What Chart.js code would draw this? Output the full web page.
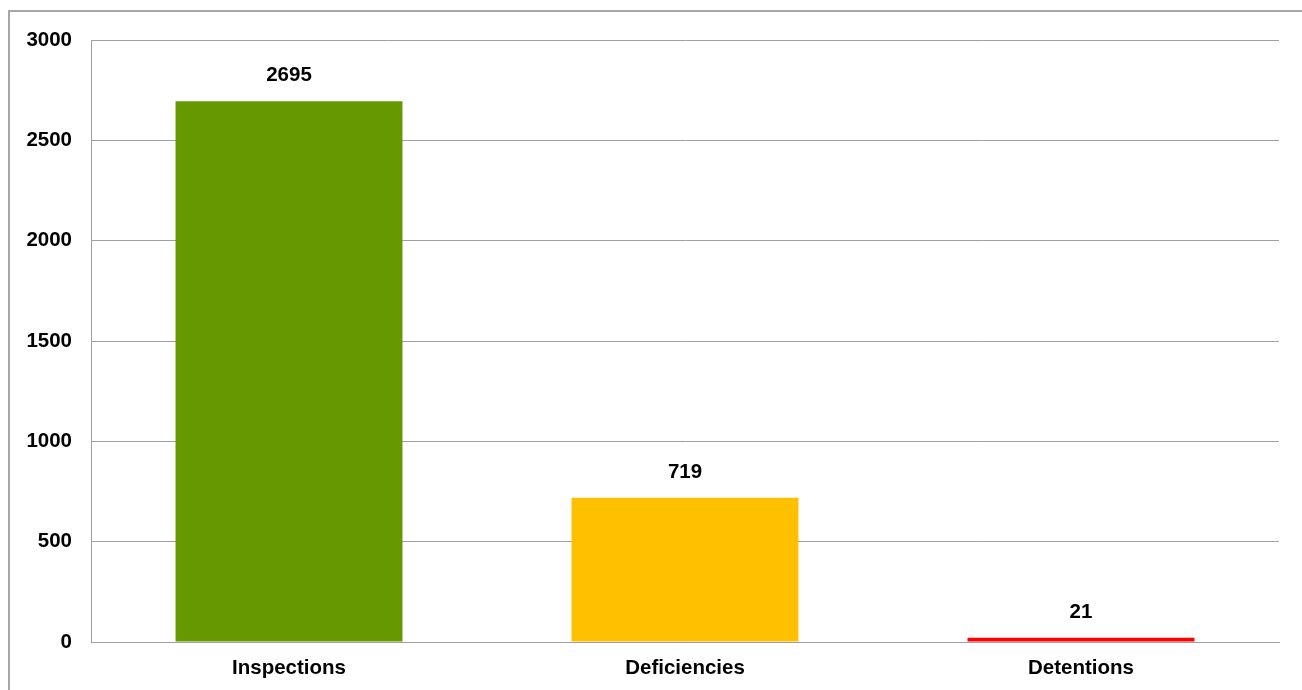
<!DOCTYPE html>
<html>
<head>
<meta charset="utf-8">
<script src="https://cdn.jsdelivr.net/npm/chart.js@4/dist/chart.umd.min.js"></script>
<style>
  html, body { margin: 0; padding: 0; background: #fff; overflow: hidden; }
  #wrap { position: relative; width: 1302px; height: 690px; }
</style>
</head>
<body>
<div id="wrap"><canvas id="grafico"></canvas></div>
<script>
// datos del grafico
const categorias = ['Inspections', 'Deficiencies', 'Detentions'];
const valores = [2695, 719, 21];
const colores = ['#669900', '#FFC000', '#FF0000'];
const ticksY = [0, 500, 1000, 1500, 2000, 2500, 3000];

const fuente = { family: '"Liberation Sans", Arial, sans-serif', size: 20.5, weight: 'bold' };
const gris = '#a0a0a0';

// marco exterior como en la imagen original
const marco = {
    id: 'marco',
    beforeDraw(chart) {
        const ctx = chart.ctx;
        ctx.save();
        ctx.strokeStyle = '#a6a6a6';
        ctx.lineWidth = 2;
        ctx.strokeRect(9, 11, 2000, 2000);
        ctx.restore();
    }
};

// etiquetas con el valor encima de cada barra
const etiquetas = {
    id: 'etiquetas',
    afterDatasetsDraw(chart) {
        const ctx = chart.ctx;
        const meta = chart.getDatasetMeta(0);
        ctx.save();
        ctx.font = 'bold 20.5px "Liberation Sans", Arial, sans-serif';
        ctx.fillStyle = '#000';
        ctx.textAlign = 'center';
        ctx.textBaseline = 'alphabetic';
        meta.data.forEach((bar, i) => {
            ctx.fillText(String(valores[i]), bar.x, bar.y - 20);
        });
        ctx.restore();
    }
};

new Chart(document.getElementById('grafico'), {
    type: 'bar',
    data: {
        labels: categorias,
        datasets: [{
            data: valores,
            backgroundColor: colores,
            borderWidth: 0,
            categoryPercentage: 1,
            barPercentage: 0.573
        }]
    },
    options: {
        responsive: true,
        maintainAspectRatio: false,
        animation: false,
        layout: { padding: { left: 0, top: 40, right: 23, bottom: 0 } },
        plugins: {
            legend: { display: false },
            tooltip: { enabled: false }
        },
        scales: {
            y: {
                min: 0, max: 3000,
                afterFit: (s) => { s.width = 91; },
                afterBuildTicks: (s) => { s.ticks = ticksY.map(v => ({ value: v })); },
                grid: { color: gris, lineWidth: 1, drawTicks: false },
                border: { display: true, color: gris, width: 1 },
                ticks: { color: '#000', font: fuente, padding: 19, callback: (v) => String(v) }
            },
            x: {
                afterFit: (s) => { s.height = 48; },
                grid: { display: false, drawTicks: false },
                border: { display: true, color: gris, width: 1 },
                ticks: { color: '#000', font: fuente, padding: 14 }
            }
        }
    },
    plugins: [marco, etiquetas]
});
</script>
</body>
</html>
